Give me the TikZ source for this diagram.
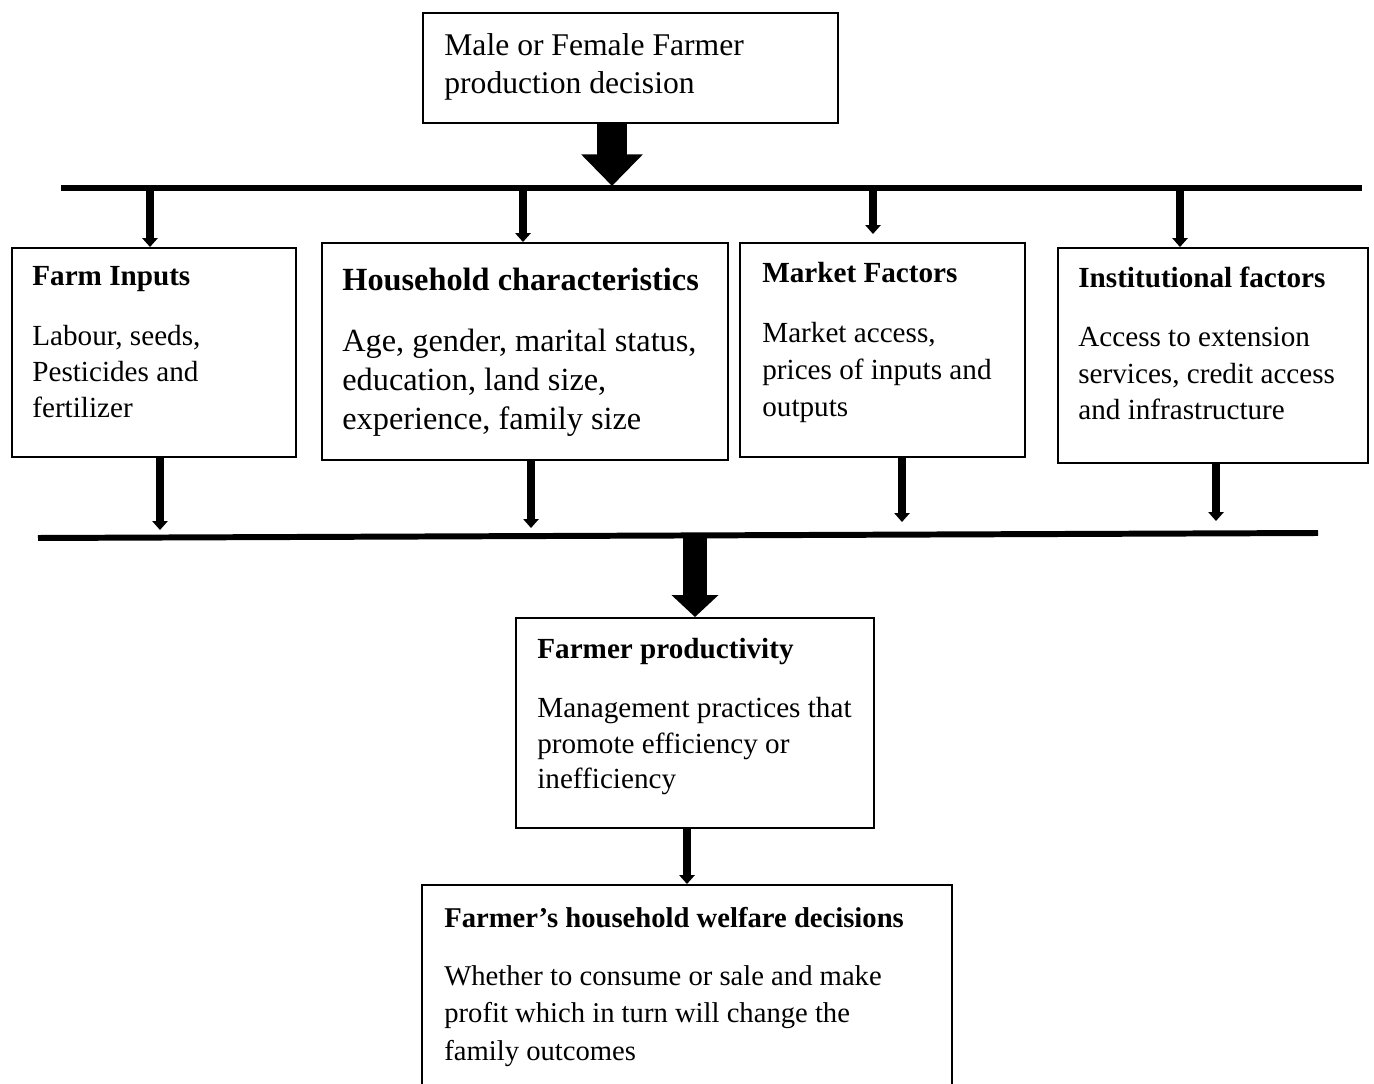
\documentclass[tikz,border=0pt]{standalone}
\usepackage{fontspec}
\setmainfont{Liberation Serif}
\usetikzlibrary{arrows.meta,calc,fit}

\begin{document}
\begin{tikzpicture}[x=0.02cm,y=-0.02cm,
    frame/.style={draw=black,line width=1.1pt,inner sep=0pt,fit={#1}},
    txt/.style={anchor=north west,inner sep=0pt,align=left,font=\fontsize{16.6}{20.4}\selectfont},
    bus/.style={line width=3.4pt},
    thinarrow/.style={line width=4pt,-{Triangle[width=8.5pt,length=5pt]}},
    bigarrow/.style={line width=17pt,-{Triangle[width=34pt,length=18pt]}}
  ]
  \useasboundingbox (0,0) rectangle (1374,1084);

  % boxes
  \node[frame={(423,13) (838,123)}] (top) {};
  \node[frame={(12,248) (296,457)}] (farm) {};
  \node[frame={(322,243) (728,460)}] (house) {};
  \node[frame={(740,243) (1025,457)}] (market) {};
  \node[frame={(1058,248) (1368,463)}] (inst) {};
  \node[frame={(516,618) (874,828)}] (prod) {};
  \node[frame={(422,885) (952,1120)}] (welf) {};

  % texts
  \node[txt,font=\fontsize{18}{22}\selectfont] (toptxt) at (444,33) {Male or Female Farmer\\production decision};
  \node[txt] (farmtxt) at (32,266) {\textbf{Farm Inputs}\\[14pt]Labour, seeds,\\Pesticides and\\fertilizer};
  \node[txt,font=\fontsize{18.4}{22.1}\selectfont] (housetxt) at (342,268) {\textbf{Household characteristics}\\[12.5pt]Age, gender, marital status,\\education, land size,\\experience, family size};
  \node[txt,font=\fontsize{16.6}{21}\selectfont] (markettxt) at (762,262) {\textbf{Market Factors}\\[13pt]Market access,\\prices of inputs and\\outputs};
  \node[txt,font=\fontsize{16.6}{20.7}\selectfont] (insttxt) at (1078,267) {\textbf{Institutional factors}\\[12.8pt]Access to extension\\services, credit access\\and infrastructure};
  \node[txt] (prodtxt) at (537,638) {\textbf{Farmer productivity}\\[13pt]Management practices that\\promote efficiency or\\inefficiency};
  \node[txt,font=\fontsize{16.3}{21.3}\selectfont] (welftxt) at (444,907) {\textbf{Farmer’s household welfare decisions}\\[11.6pt]Whether to consume or sale and make\\profit which in turn will change the\\family outcomes};

  % bars
  \coordinate (busTopW) at (61,188);
  \coordinate (busTopE) at (1362,188);
  \coordinate (busLowW) at (38,538);
  \coordinate (busLowE) at (1318,533);
  \draw[bus] (busTopW) -- (busTopE);
  \draw[bus] (busLowW) -- (busLowE);

  % arrows
  \draw[bigarrow] (612,0 |- top.south) -- (612,186);
  \draw[thinarrow] (150,0 |- busTopW) -- (150,0 |- farm.north);
  \draw[thinarrow] (523,0 |- busTopW) -- (523,0 |- house.north);
  \draw[thinarrow] (873,0 |- busTopW) -- (873,234);
  \draw[thinarrow] (1180,0 |- busTopW) -- (1180,0 |- inst.north);
  \draw[thinarrow] (160,0 |- farm.south) -- (160,530);
  \draw[thinarrow] (531,0 |- house.south) -- (531,528);
  \draw[thinarrow] (902,0 |- market.south) -- (902,522);
  \draw[thinarrow] (1216,0 |- inst.south) -- (1216,521);
  \draw[line width=14pt,-{Triangle[width=26pt,length=12.5pt]}] (prod.north |- busLowE) -- (prod.north);
  \draw[thinarrow] (welf.north |- prod.south) -- (welf.north);
\end{tikzpicture}
\end{document}
